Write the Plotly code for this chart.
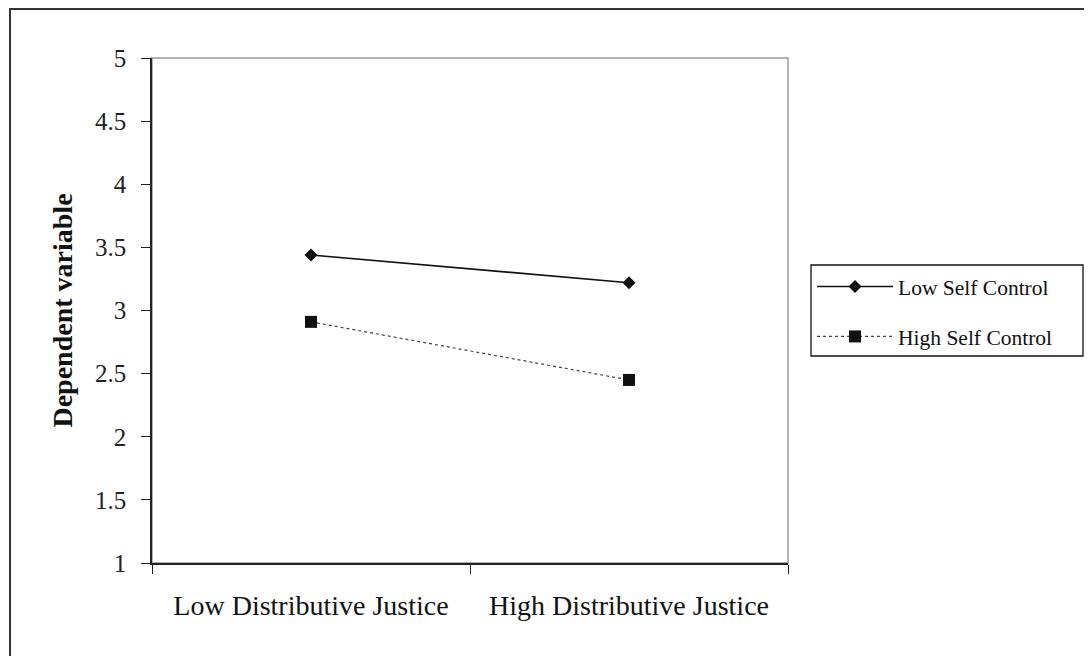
import plotly.graph_objects as go

categories = ["Low Distributive Justice", "High Distributive Justice"]
low_self_control = [3.44, 3.22]
high_self_control = [2.91, 2.45]
y_ticks = [1, 1.5, 2, 2.5, 3, 3.5, 4, 4.5, 5]
y_tick_labels = ["1", "1.5", "2", "2.5", "3", "3.5", "4", "4.5", "5"]

# page body has an 8px margin; the figure is placed at (8, 8)
OFF = 8
W, H = 1092 - OFF, 656 - OFF
L, R, T, B = 152, 788, 58, 563   # plot area in screen pixels

def px_x(p):
    return (p - L) / (R - L)

def px_y(p):
    return (B - p) / (B - T)

fig = go.Figure()
fig.add_trace(go.Scatter(
    x=categories, y=low_self_control, name="Low Self Control",
    mode="lines+markers", legendgroup="a",
    line=dict(color="#111111", width=1.6),
    marker=dict(symbol="diamond", size=10, color="#111111"),
))
fig.add_trace(go.Scatter(
    x=categories, y=high_self_control, name="High Self Control",
    mode="lines+markers", legendgroup="b",
    line=dict(color="#444444", width=1.2, dash="dot"),
    marker=dict(symbol="square", size=12, color="#111111"),
))

serif = "Liberation Serif, Times New Roman, serif"

fig.update_layout(
    width=W, height=H,
    margin=dict(l=L - OFF, r=1092 - R, t=T - OFF, b=656 - B),
    paper_bgcolor="white", plot_bgcolor="white",
    font=dict(family=serif, color="#111111"),
    showlegend=True,
    legend=dict(
        x=px_x(812), y=px_y(266), xanchor="left", yanchor="top",
        borderwidth=0,
        font=dict(family=serif, size=21.5, color="#111111"),
        tracegroupgap=19, itemwidth=76,
        bgcolor="rgba(0,0,0,0)",
    ),
    xaxis=dict(
        type="category", tickson="boundaries",
        showline=True, linecolor="#222222", linewidth=1.5,
        ticks="outside", ticklen=9, tickcolor="#222222",
        showgrid=False, zeroline=False,
        tickfont=dict(family=serif, size=28, color="#111111"),
        ticklabelstandoff=17,
        range=[-0.5, 1.5],
    ),
    yaxis=dict(
        range=[1, 5], tickvals=y_ticks, ticktext=y_tick_labels,
        showline=True, linecolor="#222222", linewidth=1.5,
        ticks="outside", ticklen=9, tickcolor="#222222",
        showgrid=False, zeroline=False,
        tickfont=dict(family=serif, size=25, color="#222222"),
        ticklabelstandoff=10,
        title=dict(text="<b>Dependent variable</b>", standoff=14,
                   font=dict(family=serif, size=28, color="#111111")),
    ),
    shapes=[
        # plot-area border (grey)
        dict(type="rect", xref="paper", yref="paper",
             x0=0, x1=1, y0=0, y1=1,
             line=dict(color="#999999", width=1.5), layer="below"),
        # outer frame
        dict(type="rect", xref="paper", yref="paper",
             x0=px_x(10), x1=px_x(1200), y0=px_y(760), y1=px_y(9),
             line=dict(color="#333333", width=2), layer="below"),
        # legend box
        dict(type="rect", xref="paper", yref="paper",
             x0=px_x(811), x1=px_x(1083), y0=px_y(356), y1=px_y(265),
             line=dict(color="#111111", width=1.3), layer="above"),
    ],
)

fig.write_html("out.html")
